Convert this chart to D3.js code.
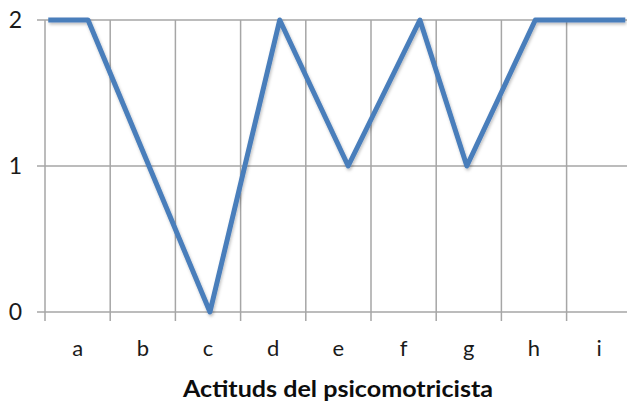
<!DOCTYPE html>
<html><head><meta charset="utf-8">
<script src="https://cdn.jsdelivr.net/npm/d3@7"></script>
<style>html,body{margin:0;padding:0;background:#fff;}svg{display:block;}</style>
</head><body>
<script>
const categories = ["a","b","c","d","e","f","g","h","i"];
const yTicks = [0,1,2];
// point positions in category units (0 = left edge of "a") and values
const pointPos = [0.05, 0.66, 2.53, 3.6, 4.65, 5.75, 6.47, 7.52, 8.9];
const pointVal = [2, 2, 0, 2, 1, 2, 1, 2, 2];
const axisTitle = "Actituds del psicomotricista";

const W = 627, H = 403;
const mLeft = 45, bandW = 65.2, mTop = 20, mBottom = 312;
const svg = d3.select("body").append("svg").attr("width", W).attr("height", H);

const x = d3.scaleLinear().domain([0, categories.length]).range([mLeft, mLeft + bandW*categories.length]);
const y = d3.scaleLinear().domain([0, 2]).range([mBottom, mTop]);

const grid = "#a6a6a6";
const font = "Lato, 'Open Sans', sans-serif";
// horizontal gridlines
svg.append("g").selectAll("line").data(yTicks).join("line")
  .attr("x1", mLeft - 8).attr("x2", W)
  .attr("y1", d => y(d)).attr("y2", d => y(d))
  .attr("stroke", grid).attr("stroke-width", 1.5);
// vertical gridlines / ticks
const vIdx = d3.range(0, categories.length);
svg.append("g").selectAll("line").data(vIdx).join("line")
  .attr("x1", d => x(d)).attr("x2", d => x(d))
  .attr("y1", mTop).attr("y2", mBottom + 9)
  .attr("stroke", grid).attr("stroke-width", 1.5);

// y labels
svg.append("g").selectAll("text").data(yTicks).join("text")
  .attr("x", 22).attr("y", d => y(d) + 8)
  .attr("text-anchor", "end")
  .attr("font-family", font).attr("font-size", 23).attr("fill", "#1a1a1a")
  .text(d => d);

// x labels
svg.append("g").selectAll("text").data(categories).join("text")
  .attr("x", (d,i) => x(i + 0.5)).attr("y", 356)
  .attr("text-anchor", "middle")
  .attr("font-family", font).attr("font-size", 22).attr("fill", "#1a1a1a")
  .text(d => d);

// axis title
svg.append("text").attr("x", 183).attr("y", 397)
  .attr("textLength", 310).attr("lengthAdjust", "spacingAndGlyphs")
  .attr("font-family", font).attr("font-size", 23).attr("font-weight", "bold").attr("fill", "#0d0d0d")
  .text(axisTitle);

// line
const pts = pointPos.map((p,i) => [p, pointVal[i]]);
const line = d3.line().x(d => x(d[0])).y(d => y(d[1]));
const defs = svg.append("defs");
const f = defs.append("filter").attr("id","sh").attr("x","-10%").attr("y","-10%").attr("width","120%").attr("height","120%");
f.append("feDropShadow").attr("dx",1).attr("dy",2).attr("stdDeviation",1.5).attr("flood-color","#000").attr("flood-opacity",0.25);
svg.append("path").datum(pts).attr("d", line)
  .attr("fill","none").attr("stroke","#4a7ebb").attr("stroke-width",5)
  .attr("stroke-linejoin","round").attr("filter","url(#sh)");
</script>
</body></html>
